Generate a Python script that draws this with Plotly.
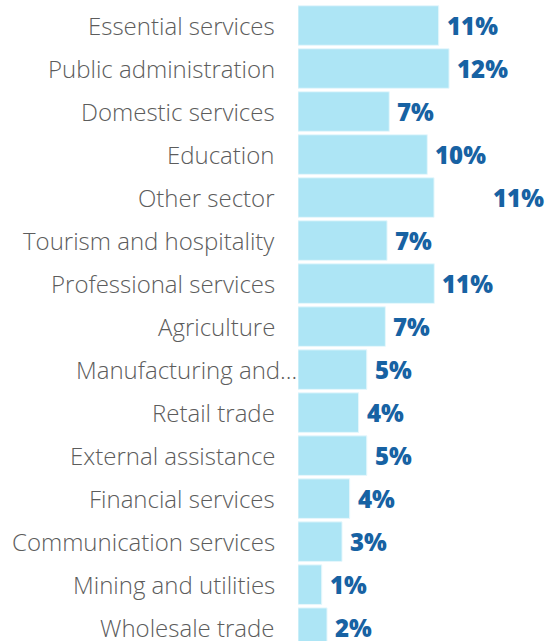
import plotly.graph_objects as go

# sectors, top to bottom
sectors = [
    "Essential services", "Public administration", "Domestic services", "Education",
    "Other sector", "Tourism and hospitality", "Professional services", "Agriculture",
    "Manufacturing and…", "Retail trade", "External assistance", "Financial services",
    "Communication services", "Mining and utilities", "Wholesale trade",
]
shares = [11.44, 12.28, 7.42, 10.51, 11.06, 7.24, 11.08, 7.10,
          5.59, 4.93, 5.59, 4.20, 3.58, 1.93, 2.36]
share_labels = ["11%", "12%", "7%", "10%", "11%", "7%", "11%", "7%",
                "5%", "4%", "5%", "4%", "3%", "1%", "2%"]

BAR = "#ade5f5"
BLUE = "#1762a3"
GREY = "#5c5c5c"

fig = go.Figure(go.Bar(
    x=shares, y=sectors, orientation="h",
    marker=dict(color=BAR, line=dict(color="#e6f7fc", width=1)),
    hoverinfo="skip",
))

for s, v, t in zip(sectors, shares, share_labels):
    # value label just past the bar end ("Other sector" sits further out in the original)
    fig.add_annotation(x=v, y=s, text=t, showarrow=False, xanchor="left",
                       xshift=57 if s == "Other sector" else 6,
                       font=dict(family="Open Sans", size=24, color=BLUE, weight=800))
    # category label on the left
    fig.add_annotation(x=0, y=s, xref="paper", text=s, showarrow=False, xanchor="right",
                       xshift=1 if s.endswith("…") else -21,
                       font=dict(family="Open Sans", size=24, color=GREY, weight=300))

fig.update_layout(
    width=547, height=641,
    margin=dict(l=298, r=0, t=4, b=0),
    plot_bgcolor="white", paper_bgcolor="white",
    bargap=0.08, showlegend=False,
)
fig.update_xaxes(range=[0, 20.24], visible=False, fixedrange=True)
fig.update_yaxes(autorange=False, range=[14.31, -0.5], categoryorder="array",
                 categoryarray=sectors, showticklabels=False, showgrid=False,
                 zeroline=False, fixedrange=True)

fig.write_html("out.html", config={"displayModeBar": False},
               post_script="document.body.style.margin='0';")
